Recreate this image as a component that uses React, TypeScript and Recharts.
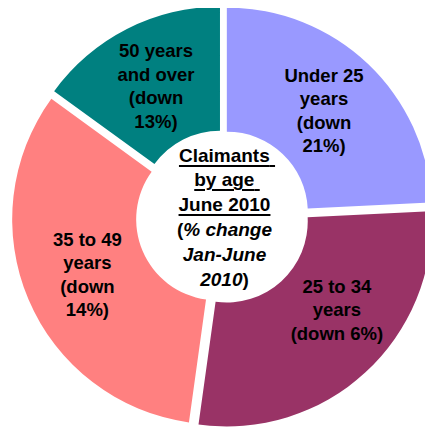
import React from 'react';
import { PieChart, Pie, Cell, Sector } from 'recharts';

// Claimants by age, June 2010 (share of total)
const ageGroups = ['Under 25 years', '25 to 34 years', '35 to 49 years', '50 years and over'];
const shares = [24.2, 28.0, 32.8, 15.0];
const sliceLabels = [
  ['Under 25', 'years', '(down', '21%)'],
  ['25 to 34', 'years', '(down 6%)'],
  ['35 to 49', 'years', '(down', '14%)'],
  ['50 years', 'and over', '(down', '13%)'],
];
const colors = ['#9999FF', '#993366', '#FF8080', '#008080'];

const data = ageGroups.map((name, i) => ({ name, value: shares[i] }));

const RAD = Math.PI / 180;
const EXPLODE = 6;
const FONT = '"Liberation Sans", Arial, sans-serif';
// small per-label angle tweak (degrees) where the original label was dragged
const labelTurn = [0, 8.5, 0, 0];

const renderSlice = (props: any) => {
  const { cx, cy, midAngle } = props;
  const dx = EXPLODE * Math.cos(-midAngle * RAD);
  const dy = EXPLODE * Math.sin(-midAngle * RAD);
  return <Sector {...props} cx={cx + dx} cy={cy + dy} />;
};

const renderLabel = (props: any) => {
  const { cx, cy, midAngle, index } = props;
  const a = (midAngle + labelTurn[index]) * RAD;
  const r = 147;
  const x = cx + r * Math.cos(-a);
  const y = cy + r * Math.sin(-a);
  const lines = sliceLabels[index];
  const lh = 23.5;
  const fs = 18.5;
  return (
    <text
      x={x}
      y={y}
      textAnchor="middle"
      fontFamily={FONT}
      fontWeight="bold"
      fontSize={fs}
      fill="#000"
    >
      {lines.map((line, k) => (
        <tspan key={k} x={x} y={y + (k - (lines.length - 1) / 2) * lh + fs * 0.35}>
          {line}
        </tspan>
      ))}
    </text>
  );
};

const underline: React.CSSProperties = {
  textDecoration: 'underline',
  textDecorationThickness: '2px',
  textUnderlineOffset: '3px',
};

export default function App() {
  return (
    <div style={{ position: 'relative', width: 425, height: 425 }}>
      <PieChart width={425} height={425} margin={{ top: 0, right: 0, bottom: 0, left: 0 }}>
        <Pie
          data={data}
          dataKey="value"
          nameKey="name"
          cx={214.7}
          cy={209}
          innerRadius={81}
          outerRadius={205}
          startAngle={90}
          endAngle={-270}
          stroke="none"
          shape={renderSlice}
          label={renderLabel}
          labelLine={false}
          isAnimationActive={false}
        >
          {data.map((d, i) => (
            <Cell key={d.name} fill={colors[i]} />
          ))}
        </Pie>
      </PieChart>
      <div
        style={{
          position: 'absolute',
          left: 216.5,
          top: 135.6,
          transform: 'translateX(-50%)',
          textAlign: 'center',
          whiteSpace: 'nowrap',
          fontFamily: FONT,
          fontWeight: 'bold',
          fontSize: 19,
          lineHeight: '24.8px',
          color: '#000',
        }}
      >
        <div>
          <span style={underline}>
            Claimants<span style={{ marginRight: -5 }}>{'\u00A0'}</span>
          </span>
        </div>
        <div>
          <span style={underline}>
            by age<span style={{ marginRight: -5 }}>{'\u00A0'}</span>
          </span>
        </div>
        <div>
          <span style={underline}>June 2010</span>
        </div>
        <div>
          (<i>% change</i>
        </div>
        <div>
          <i>Jan-June</i>
        </div>
        <div>
          <i>2010</i>)
        </div>
      </div>
    </div>
  );
}
